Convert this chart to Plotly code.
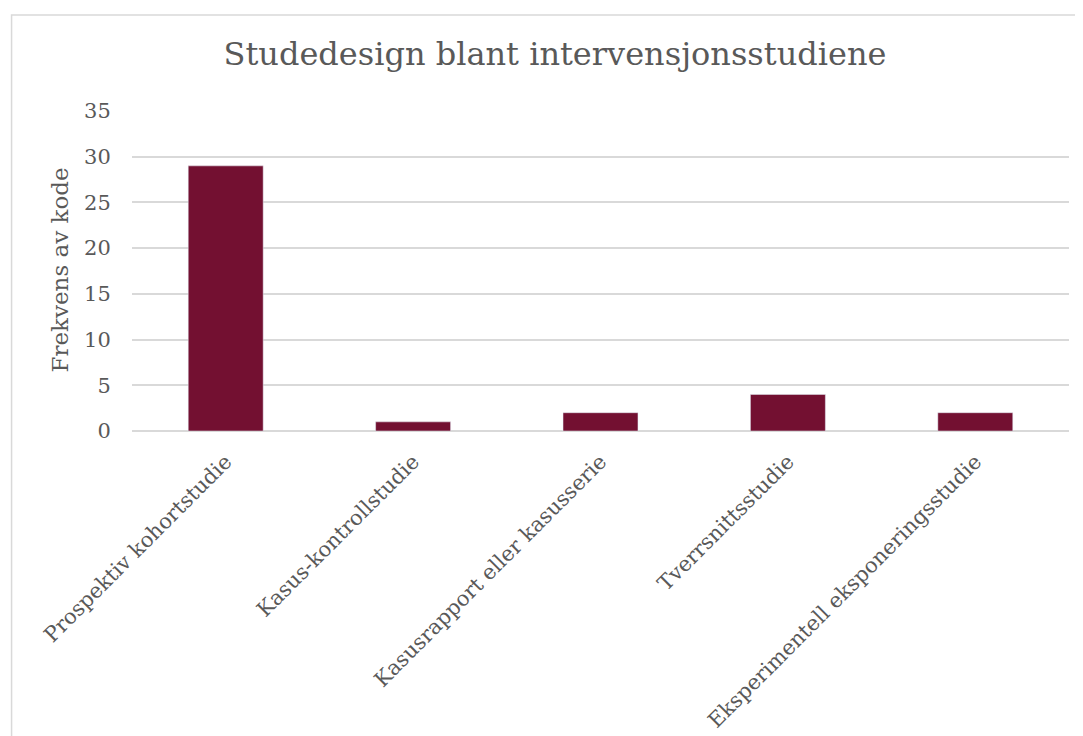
import plotly.graph_objects as go

categories = ["Prospektiv kohortstudie", "Kasus-kontrollstudie", "Kasusrapport eller kasusserie",
              "Tverrsnittsstudie", "Eksperimentell eksponeringsstudie"]
values = [29, 1, 2, 4, 2]
y_ticks = [0, 5, 10, 15, 20, 25, 30, 35]

OFF = 8  # page body margin
W, H = 1075, 728
L, R, T, B = 131.5 - OFF, 1069 - OFF, 111 - OFF, 431 - OFF
FONT = "Georgia, 'DejaVu Serif', serif"
TXT = "#595959"

fig = go.Figure(go.Bar(x=categories, y=values, marker_color="#731031", width=0.4))

pw, ph = R - L, B - T
def px(x): return (x - OFF - L) / pw
def py(y): return (B - (y - OFF)) / ph

fig.update_layout(
    width=W, height=H,
    margin=dict(l=L, r=W - R, t=T, b=H - B, pad=0, autoexpand=False),
    paper_bgcolor="white", plot_bgcolor="white",
    font=dict(family=FONT, color=TXT),
    title=dict(text="Studedesign blant intervensjonsstudiene", x=(555 - OFF) / W, xanchor="center",
               y=1 - (54 - OFF) / H, yanchor="middle", font=dict(size=32, color=TXT, family=FONT)),
    xaxis=dict(tickangle=-45, tickfont=dict(size=21, color=TXT), showgrid=False, automargin=False,
               showline=False, ticks="outside", ticklen=9, tickcolor="rgba(0,0,0,0)",
               range=[-0.5, 4.5]),
    yaxis=dict(range=[0, 35], tickvals=y_ticks, tickfont=dict(size=21, color=TXT), automargin=False,
               gridcolor="#d9d9d9", gridwidth=1.5, zeroline=True, zerolinecolor="#d9d9d9",
               zerolinewidth=1.5, ticks="outside", ticklen=16, tickcolor="rgba(0,0,0,0)"),
    annotations=[dict(text="Frekvens av kode", textangle=-90, xref="paper", yref="paper",
                      x=px(59), y=py(270), xanchor="center", yanchor="middle", showarrow=False,
                      font=dict(size=23, color=TXT, family=FONT))],
    shapes=[dict(type="rect", xref="paper", yref="paper",
                 x0=px(11), x1=px(1099), y0=py(760), y1=py(15),
                 line=dict(color="#d9d9d9", width=1.5), fillcolor="rgba(0,0,0,0)", layer="below")],
    showlegend=False,
)

fig.write_html("out.html")
